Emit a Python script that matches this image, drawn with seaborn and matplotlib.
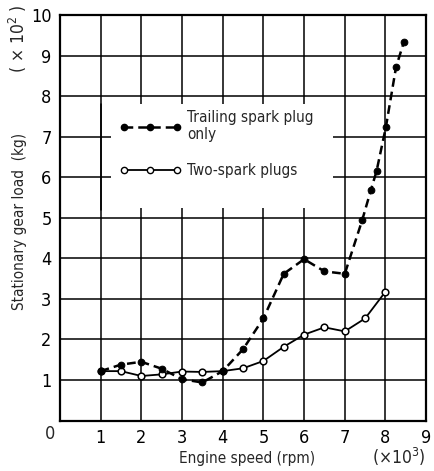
import numpy as np
import pandas as pd
import matplotlib
matplotlib.use("Agg")
import matplotlib.pyplot as plt
from matplotlib.lines import Line2D
from matplotlib.patches import Rectangle
import seaborn as sns

# Engine speed (x10^3 rpm) and stationary gear load (x10^2 kg)
trailing_speed = [1.0, 1.5, 2.0, 2.5, 3.0, 3.5, 4.0, 4.5, 5.0, 5.5, 6.0, 6.5, 7.0,
                  7.43, 7.64, 7.78, 8.01, 8.26, 8.45]
trailing_load = [1.22, 1.38, 1.45, 1.28, 1.02, 0.94, 1.22, 1.76, 2.52, 3.62, 3.98,
                 3.68, 3.62, 4.95, 5.68, 6.15, 7.24, 8.72, 9.33]

twin_speed = [1.0, 1.5, 2.0, 2.5, 3.0, 3.5, 4.0, 4.5, 5.0, 5.5, 6.0, 6.5, 7.0, 7.5, 8.0]
twin_load = [1.22, 1.22, 1.10, 1.14, 1.21, 1.20, 1.22, 1.29, 1.47, 1.82, 2.12,
             2.30, 2.20, 2.52, 3.18]

series_names = ["Trailing spark plug\nonly", "Two-spark plugs"]
x_ticks = [1, 2, 3, 4, 5, 6, 7, 8, 9]
y_ticks = [1, 2, 3, 4, 5, 6, 7, 8, 9, 10]

sns.set_theme(style="white")
plt.rcParams["font.family"] = ["DejaVu Sans"]
plt.rcParams["font.stretch"] = "condensed"

df = pd.concat([
    pd.DataFrame({"speed": trailing_speed, "load": trailing_load, "series": series_names[0]}),
    pd.DataFrame({"speed": twin_speed, "load": twin_load, "series": series_names[1]}),
])

fig = plt.figure(figsize=(4.34, 4.71), dpi=100)
ax = fig.add_axes([0.138, 0.107, 0.844, 0.861])

# grid at every integer
for xv in x_ticks:
    ax.axvline(xv, color="black", lw=1.1, zorder=1)
for yv in y_ticks:
    ax.axhline(yv, color="black", lw=1.1, zorder=1)

# blank panel behind the key
ax.add_patch(Rectangle((1.25, 5.25), 5.45, 2.55, facecolor="white",
                       edgecolor="none", zorder=2))
ax.axvline(1, ymin=0.52, ymax=0.78, color="black", lw=1.1, zorder=2)

sub1 = df[df.series == series_names[0]]
sub2 = df[df.series == series_names[1]]
sns.lineplot(data=sub2, x="speed", y="load", ax=ax, color="black", lw=1.3,
             marker="o", markersize=4.8, markerfacecolor="white",
             markeredgecolor="black", markeredgewidth=1.1, zorder=3,
             legend=False, sort=False)
sns.lineplot(data=sub1, x="speed", y="load", ax=ax, color="black", lw=1.8,
             dashes=(3.5, 2), marker="o", markersize=4.8, markerfacecolor="black",
             markeredgecolor="black", zorder=4, legend=False, sort=False)

ax.set_xlim(0, 9)
ax.set_ylim(0, 10)
ax.set_xticks(x_ticks)
ax.set_yticks(y_ticks)
ax.set_xticklabels([str(v) for v in x_ticks], fontsize=13)
ax.set_yticklabels([str(v) for v in y_ticks], fontsize=13)
ax.tick_params(length=0, pad=6, colors="black")
for s in ax.spines.values():
    s.set_color("black")
    s.set_linewidth(1.6)
ax.set_xlabel("")
ax.set_ylabel("")

# key
handles = [
    Line2D([], [], color="black", lw=1.8, dashes=(3.5, 2), marker="o",
           markersize=4.5, markerfacecolor="black"),
    Line2D([], [], color="black", lw=1.3, marker="o", markersize=4.5,
           markerfacecolor="white", markeredgewidth=1.0),
]
leg = ax.legend(handles, series_names, loc="upper left",
                bbox_to_anchor=(0.124, 0.80), frameon=False, numpoints=3,
                handlelength=4.1, handletextpad=0.35, labelspacing=1.38,
                fontsize=11)

fig.text(0.115, 0.078, "0", ha="center", va="center", fontsize=13)
fig.text(0.57, 0.027, "Engine speed (rpm)", ha="center", va="center", fontsize=11)
fig.text(0.918, 0.03, "(×10$^3$)", ha="center", va="center", fontsize=12.5)
fig.text(0.045, 0.53, "Stationary gear load  (kg)", rotation=90, ha="center",
         va="center", fontsize=11)
fig.text(0.042, 0.918, "( × 10$^2$ )", rotation=90, ha="center", va="center",
         fontsize=12.5)

fig.savefig("out.png", dpi=100)
